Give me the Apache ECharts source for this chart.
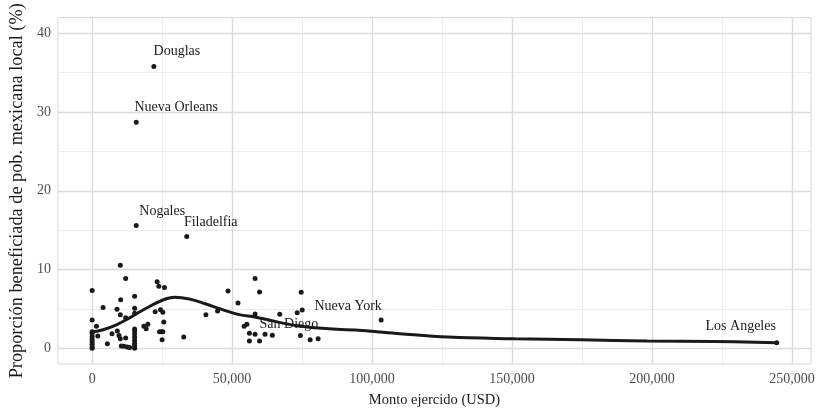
<!DOCTYPE html>
<html>
<head>
<meta charset="utf-8">
<script src="https://cdn.jsdelivr.net/npm/echarts@6/dist/echarts.min.js"></script>
<style>
	html, body { margin: 0; padding: 0; background: #fff; }
	#chart { width: 822px; height: 413px; }
</style>
</head>
<body>
<div id="chart"></div>
<script>
// points: [monto USD, proporcion %]
var puntos = [
	[0, 7.35], [0, 3.6], [0, 0], [0, 0.2], [0, 0.5], [0, 0.8], [0, 1.1], [0, 1.5], [0, 1.9], [0, 2.1],
	[1530, 2.81], [2030, 1.55], [3900, 5.18], [5440, 0.58], [7110, 1.84], [9000, 2.18], [8890, 4.96],
	[9600, 1.63], [10060, 10.54], [10200, 6.17], [10060, 4.27], [10060, 1.21], [10420, 0.29], [11380, 0.24],
	[11980, 8.86], [11980, 3.86], [11980, 1.3], [12550, 0.16], [13400, 0.08],
	[15180, 6.6], [15180, 5.08], [15180, 4.45], [15180, 0], [15180, 0.3], [15180, 0.6], [15180, 1.0],
	[15180, 1.4], [15180, 1.8], [15180, 2.2], [15180, 2.45],
	[18490, 2.81], [19310, 2.47], [19910, 3.06], [22510, 4.65], [23220, 8.44], [23830, 7.86], [24430, 4.9],
	[25250, 4.58], [25850, 7.73], [25600, 3.32], [24080, 2.1], [24700, 2.1], [25250, 2.1], [25000, 1.08],
	[32720, 1.42], [40650, 4.27], [44810, 4.72], [48540, 7.26], [52100, 5.75], [54300, 2.81],
	[56190, 1.9], [56190, 0.93], [58200, 8.86], [58200, 4.36], [58200, 1.78], [59800, 7.16], [59800, 0.93],
	[61770, 1.78], [64370, 1.65], [67030, 4.33], [73260, 4.51], [75040, 4.87], [74680, 7.1], [74400, 1.63],
	[77880, 1.08], [80730, 1.21]
];

var ciudades = ["Douglas", "Nueva Orleans", "Nogales", "Filadelfia", "Nueva York", "San Diego", "Los Angeles"];
var ciudadesMonto = [22050, 15750, 15750, 33800, 103240, 55300, 244560];
var ciudadesProp = [35.8, 28.7, 15.6, 14.2, 3.6, 3.06, 0.7];

// loess curve
var curvaMonto = [0, 3900, 8650, 13400, 19300, 25250, 29400, 34740, 40650, 46590, 52520, 58430,
	72650, 84530, 96370, 110000, 127200, 150900, 174600, 198300, 222000, 244560];
var curvaProp = [2.06, 2.35, 2.98, 3.86, 5.08, 6.13, 6.47, 6.25, 5.62, 4.9, 4.27, 3.95,
	2.89, 2.47, 2.26, 1.85, 1.42, 1.21, 1.08, 0.92, 0.87, 0.7];

var xMayores = [0, 50000, 100000, 150000, 200000, 250000];
var xMenores = [25000, 75000, 125000, 175000, 225000];
var yMayores = [0, 10, 20, 30, 40];
var yMenores = [5, 15, 25, 35];

// label offsets (px) for each city, style only
var desplazamientos = {
	"Douglas": [23, -15],
	"Nueva Orleans": [40, -15],
	"Nogales": [26, -14],
	"Filadelfia": [24, -14],
	"Nueva York": [-33, -14],
	"San Diego": [42, 0],
	"Los Angeles": [-36, -16]
};

var fuente = "Liberation Serif";

function lineasGuia() {
	var data = [];
	var menor = { color: '#ededed', width: 1, type: 'solid' };
	var mayor = { color: '#dcdcdc', width: 1.4, type: 'solid' };
	xMenores.forEach(function (v) { data.push({ xAxis: v, lineStyle: menor }); });
	yMenores.forEach(function (v) { data.push({ yAxis: v, lineStyle: menor }); });
	xMayores.forEach(function (v) { data.push({ xAxis: v, lineStyle: mayor }); });
	yMayores.forEach(function (v) { data.push({ yAxis: v, lineStyle: mayor }); });
	return data;
}

var etiquetados = ciudades.map(function (c, i) {
	return {
		name: c,
		value: [ciudadesMonto[i], ciudadesProp[i]],
		label: { offset: desplazamientos[c] }
	};
});

var curva = curvaMonto.map(function (x, i) { return [x, curvaProp[i]]; });

var myChart = echarts.init(document.getElementById('chart'));
myChart.setOption({
	animation: false,
	textStyle: { fontFamily: fuente },
	grid: {
		left: 55,
		right: 11,
		top: 17.6,
		bottom: 48.9,
		show: true,
		borderColor: '#d6d6d6',
		borderWidth: 1
	},
	xAxis: {
		type: 'value',
		min: -12230,
		max: 256800,
		name: 'Monto ejercido (USD)',
		nameLocation: 'middle',
		nameGap: 29,
		nameTextStyle: { fontFamily: fuente, fontSize: 14.5, color: '#1a1a1a' },
		axisLine: { show: false },
		axisTick: { show: false },
		splitLine: { show: false },
		axisLabel: {
			customValues: xMayores,
			fontFamily: fuente,
			fontSize: 14,
			color: '#4d4d4d',
			margin: 8,
			formatter: function (v) { return v.toLocaleString('en-US'); }
		}
	},
	yAxis: {
		type: 'value',
		min: -2,
		max: 42,
		name: 'Proporción beneficiada de pob. mexicana local (%)',
		nameLocation: 'middle',
		nameGap: 31,
		nameTextStyle: { fontFamily: fuente, fontSize: 18.3, color: '#1a1a1a' },
		axisLine: { show: false },
		axisTick: { show: false },
		splitLine: { show: false },
		axisLabel: {
			customValues: yMayores,
			fontFamily: fuente,
			fontSize: 14,
			color: '#4d4d4d',
			margin: 7
		}
	},
	series: [{
		name: 'guias',
		type: 'scatter',
		data: [],
		silent: true,
		z: 0,
		markLine: {
			silent: true,
			z: 0,
			symbol: ['none', 'none'],
			label: { show: false },
			animation: false,
			data: lineasGuia()
		}
	}, {
		name: 'puntos',
		type: 'scatter',
		data: puntos,
		symbolSize: 5,
		itemStyle: { color: '#1a1a1a', opacity: 1 },
		z: 2
	}, {
		name: 'loess',
		type: 'line',
		data: curva,
		smooth: 0.4,
		showSymbol: false,
		symbol: 'none',
		lineStyle: { color: '#1a1a1a', width: 3 },
		z: 3
	}, {
		name: 'ciudades',
		type: 'scatter',
		data: etiquetados,
		symbolSize: 5,
		itemStyle: { color: '#1a1a1a', opacity: 1 },
		label: {
			show: true,
			position: 'inside',
			formatter: '{b}',
			fontFamily: fuente,
			fontSize: 14,
			color: '#1a1a1a',
			textBorderWidth: 0,
			opacity: 1
		},
		z: 4
	}]
});
</script>
</body>
</html>
